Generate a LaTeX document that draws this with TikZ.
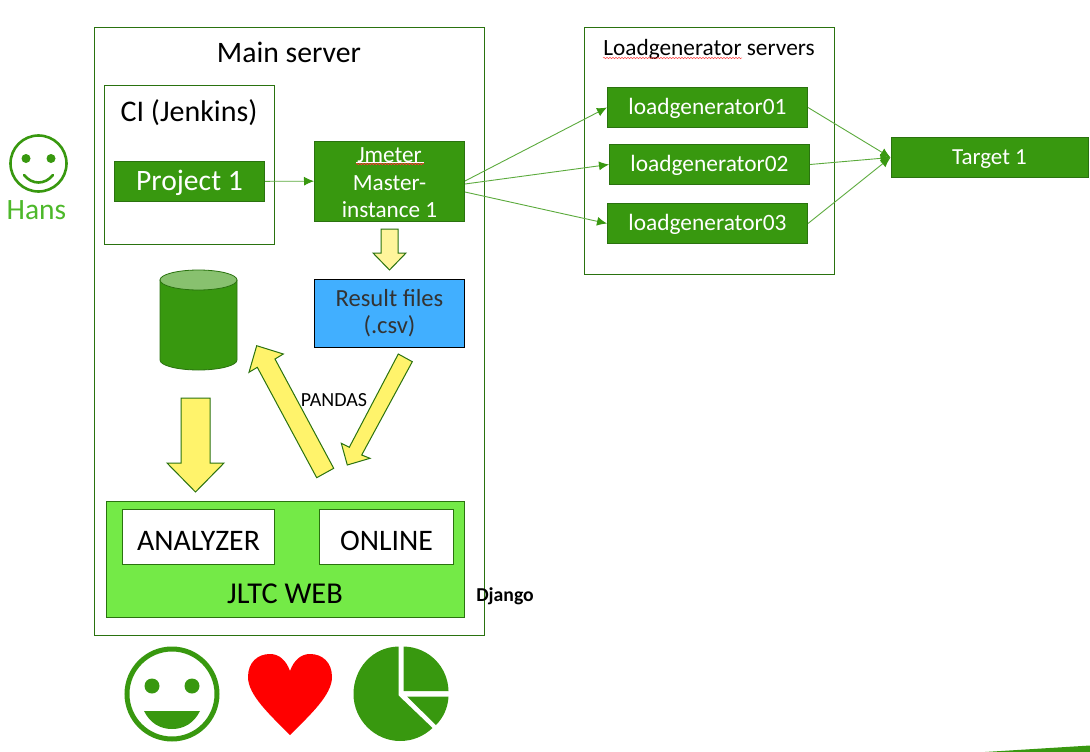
\documentclass[tikz,border=0pt]{standalone}
\usepackage{fontspec}
\setmainfont{Carlito}
\usetikzlibrary{arrows.meta,decorations.pathmorphing,calc}
\definecolor{gfill}{HTML}{38980F}
\definecolor{gline}{HTML}{2A720F}
\definecolor{conn}{HTML}{5BAA3C}
\definecolor{ylw}{HTML}{FFF36B}
\definecolor{lylw}{HTML}{FFF59B}
\definecolor{blu}{HTML}{41AFFF}
\definecolor{lime}{HTML}{74EA47}
\definecolor{hanscol}{HTML}{4DB82A}
\newcommand{\lowr}[2]{\raisebox{-#1}[0pt][0pt]{#2}}
\tikzset{
 x=1pt,y=-1pt,
 frame/.style={draw=gline,fill=white,line width=1pt,inner sep=0pt},
 gbox/.style={draw=gline,fill=gfill,line width=1pt,text=white,inner sep=0pt,align=center},
 lbl/.style={inner sep=0pt,align=center},
 conn/.style={draw=conn,line width=0.9pt,-{Latex[length=10pt,width=9pt,color=gfill]}},
 block/.style={draw=gline,line width=1pt,fill=ylw,line join=miter},
 squig/.style={line width=0.7pt,decorate,decoration={snake,amplitude=0.7pt,segment length=3pt}},
}
\begin{document}
\begin{tikzpicture}
\useasboundingbox (0,0) rectangle (1090,752);
% frames
\node[frame,minimum width=390pt,minimum height=608pt] (main) at (289.5,331.5) {};
\node[frame,minimum width=250pt,minimum height=247pt] (lg) at (709,151) {};
\node[frame,minimum width=170pt,minimum height=158pt] (ci) at (189.5,165) {};
\node[lbl,font=\fontsize{29.7}{34}\selectfont] (maintitle) at (289,52) {Main server};
\node[lbl,font=\fontsize{23.3}{28}\selectfont] (lgtitle) at (709,49) {Loadgenerator servers};
\node[lbl,font=\fontsize{30}{34}\selectfont] (cititle) at (189,113) {CI (Jenkins)};
% green boxes
\node[gbox,minimum width=150pt,minimum height=40pt,font=\fontsize{29.6}{34}\selectfont] (p1) at (189.5,181.5) {\lowr{9pt}{Project 1}};
\node[gbox,minimum width=150pt,minimum height=80pt,font=\fontsize{23.2}{27.5}\selectfont] (jm) at (389.5,181) {\rule{0pt}{19pt}Jmeter\\Master-\\instance 1};
\node[gbox,minimum width=200pt,minimum height=40pt,font=\fontsize{23.4}{28}\selectfont] (l1) at (707.5,107.5) {\lowr{7.4pt}{loadgenerator01}};
\node[gbox,minimum width=200pt,minimum height=40pt,font=\fontsize{23.4}{28}\selectfont] (l2) at (709.5,164.5) {\lowr{7.4pt}{loadgenerator02}};
\node[gbox,minimum width=200pt,minimum height=40pt,font=\fontsize{23.4}{28}\selectfont] (l3) at (707.5,223.5) {\lowr{7.4pt}{loadgenerator03}};
\node[gbox,minimum width=197pt,minimum height=40pt,font=\fontsize{23}{28}\selectfont] (t1) at (989.5,157.5) {\lowr{7.4pt}{Target 1}};
% connectors
\coordinate (jmA) at (465,181);
\coordinate (jmB) at (465,184);
\coordinate (jmC) at (465,192);
\draw[conn] (p1) -- (jm);
\draw[conn] (jmA) -- (l1.west);
\draw[conn] (jmB) -- (l2.west);
\draw[conn] (jmC) -- (l3.west);
\draw[conn] (l1.east) -- (t1.west);
\draw[conn] (l2.east) -- (t1.west);
\draw[conn] (l3.east) -- (t1.west);
% squiggles
\draw[white,line width=0.7pt] (356,162.8) -- (424,162.8);
\draw[red!80!white,squig] (356,164) -- (424,164);
\draw[red!70!white,squig,line width=0.5pt] (603,58) -- (742,58);
% result
\node[draw=black,line width=1pt,fill=blu,minimum width=150pt,minimum height=68pt,inner sep=0pt,align=center,font=\fontsize{24.6}{27.5}\selectfont,text=black!80] (res) at (389.5,313) {Result files\\(.csv)};
% cylinder
\fill[gfill,draw=gline,line width=0.8pt] (160,280) -- (160,360) arc[start angle=180,end angle=360,x radius=38.5,y radius=-10] -- (237,280) -- cycle;
\fill[fill=gfill!60!white,draw=gline,line width=0.8pt] (198.5,280) ellipse[x radius=38.5,y radius=10];
% block arrows
\draw[block,fill=lylw] (381,229) -- (398,229) -- (398,253) -- (406,253) -- (389.5,270) -- (373,253) -- (381,253) -- cycle;
\draw[block] (181,398) -- (210,398) -- (210,463) -- (224,463) -- (195.5,492) -- (167,463) -- (181,463) -- cycle;
\draw[block] (316.7,477.7) -- (333.7,468.3) -- (275,359) -- (283.3,354) -- (256.7,345.7) -- (249,372.3) -- (257.3,367.3) -- cycle;
\draw[block] (398.3,354) -- (412.3,361.7) -- (361.7,455) -- (370,458.3) -- (347.3,465) -- (341.3,443.3) -- (349.3,447.3) -- cycle;
\node[lbl,font=\fontsize{20}{24}\selectfont] (pandas) at (334,400) {PANDAS};
% JLTC
\node[draw=gline,fill=lime,line width=1pt,minimum width=358pt,minimum height=115.5pt,inner sep=0pt] (web) at (285.3,559.5) {};
\node[frame,minimum width=152pt,minimum height=55pt,font=\fontsize{29.8}{34}\selectfont] (an) at (198.5,536.8) {\lowr{13.2pt}{ANALYZER}};
\node[frame,minimum width=134pt,minimum height=55pt,font=\fontsize{29.8}{34}\selectfont] (on) at (386.5,536.8) {\lowr{13.2pt}{ONLINE}};
\node[lbl,font=\fontsize{30.3}{34}\selectfont] (webt) at (285,594) {JLTC WEB};
\node[lbl,font=\bfseries\fontsize{19.7}{24}\selectfont] (dj) at (505,596) {Django};
% Hans smiley
\draw[gfill,line width=2.6pt] (38.5,163.5) circle[radius=28];
\fill[gfill] (26,158.5) circle[radius=4.5];
\fill[gfill] (51,158.5) circle[radius=4.5];
\draw[gfill,line width=2.6pt,line cap=round] (24,175) .. controls (32,185) and (45,185) .. (53,175);
\node[lbl,text=hanscol,font=\fontsize{29.5}{34}\selectfont] (hans) at (36.5,210) {Hans};
% bottom smiley
\draw[gfill,line width=5pt] (172,694) circle[radius=45];
\fill[gfill] (152,686) circle[radius=7.5];
\fill[gfill] (192,686) circle[radius=7.5];
\fill[gfill] (144,711) -- (200,711) .. controls (194,723) and (184,729) .. (172,729) .. controls (160,729) and (150,723) .. (144,711) -- cycle;
% heart
\fill[red] (290,735) .. controls (270,715) and (248,695) .. (248,677) .. controls (248,662) and (258,654) .. (270,654) .. controls (279,654) and (286,660) .. (290,671) .. controls (294,660) and (301,654) .. (310,654) .. controls (322,654) and (332,662) .. (332,677) .. controls (332,695) and (310,715) .. (290,735) -- cycle;
% pie
\fill[gfill] (398.5,646.5) .. controls (372,647) and (353.5,669) .. (353.5,694) .. controls (353.5,720) and (375,741) .. (400,741) .. controls (413,741) and (424,736) .. (432.5,728) -- (398.5,695.5) -- cycle;
\fill[gfill] (403.5,646.5) .. controls (429,647) and (448,667) .. (448.5,691) -- (403.5,691) -- cycle;
\fill[gfill] (407,696.5) -- (448.5,696.5) .. controls (448,708) and (443,718) .. (436,725) -- cycle;
% corner sliver
\fill[gfill] (985,752) -- (1090,745.5) -- (1090,752) -- cycle;
\end{tikzpicture}
\end{document}
